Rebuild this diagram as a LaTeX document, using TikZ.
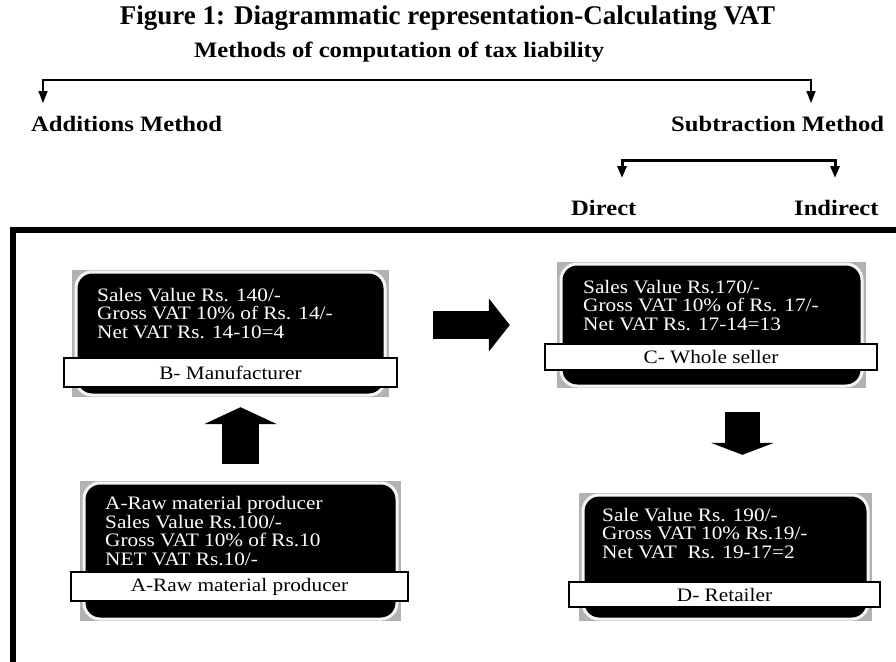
\documentclass[tikz,border=0pt]{standalone}
\usepackage{fontspec}
\setmainfont{Liberation Serif}
\newfontfamily\headfont[FakeStretch=1.12]{Liberation Serif}
\newfontfamily\cardfont[FakeStretch=1.12]{Liberation Serif}
\usetikzlibrary{arrows.meta,calc}
\tikzset{
  backing/.style={fill=gray!60, inner sep=0pt},
  card/.style={fill=black, draw=gray!8, line width=3pt, rounded corners=16pt, inner sep=0pt},
  cardtext/.style={text=white, align=left, inner sep=0pt, font=\cardfont\fontsize{19}{18.5}\selectfont},
  tag/.style={draw=black, fill=white, line width=1.2pt, inner sep=0pt, font=\cardfont\fontsize{19}{19}\selectfont},
  heading/.style={inner sep=0pt, font=\headfont\bfseries\fontsize{22}{24}\selectfont},
  split/.style={line width=#1, {Triangle[width=9pt,length=12pt]}-{Triangle[width=9pt,length=12pt]}},
  blockarrow/.style n args={3}{line width=#1, -{Triangle[width=#2,length=#3,line width=0pt]}},
}
\begin{document}
\begin{tikzpicture}[x=1pt,y=-1pt]
  \useasboundingbox (0,0) rectangle (896,661);
  % headings
  \node[inner sep=0pt, anchor=base, font=\bfseries\fontsize{27}{30}\selectfont] (title) at (447.5,25)
    {Figure 1: Diagrammatic representation-Calculating VAT};
  \node[heading, anchor=base west] (methods) at (194,58) {Methods of computation of tax liability};
  \node[heading, anchor=base west] (add) at (31,131) {Additions Method};
  \node[heading, anchor=base west] (sub) at (671,131) {Subtraction Method};
  \node[heading, anchor=base west] (direct) at (571,215) {Direct};
  \node[heading, anchor=base west] (indirect) at (794,215) {Indirect};
  % splits
  \coordinate (addtop) at (43,80);
  \coordinate (subtop) at (811,80);
  \coordinate (addtip) at (43,103);
  \coordinate (subtip) at (811,103);
  \coordinate (dirtop) at (622,160);
  \coordinate (indtop) at (835,160);
  \coordinate (dirtip) at (622,178);
  \coordinate (indtip) at (835,178);
  \draw[split=1.5pt] (addtip) -- (addtop) -- (subtop) -- (subtip);
  \draw[split=3pt] (dirtip) -- (dirtop) -- (indtop) -- (indtip);
  % frame
  \draw[line width=6pt] (900,230) -- (13,230) -- (13,665);
  % B- Manufacturer
  \node[backing, minimum width=317pt, minimum height=127pt] (Bbg) at (230.5,333.5) {};
  \node[card, minimum width=309pt, minimum height=123pt] (B) at (Bbg) {};
  \node[cardtext, anchor=base west] (Btext) at (97,338)
    {Sales Value Rs. 140/-\\Gross VAT 10\% of Rs. 14/-\\Net VAT Rs. 14-10=4};
  \node[tag, minimum width=333pt, minimum height=29pt] (Btag) at (230.5,372.5) {B- Manufacturer};
  % C- Whole seller
  \node[backing, minimum width=309pt, minimum height=126pt] (Cbg) at (711.5,325) {};
  \node[card, minimum width=301pt, minimum height=122pt] (C) at (Cbg) {};
  \node[cardtext, anchor=base west] (Ctext) at (583,330)
    {Sales Value Rs.170/-\\Gross VAT 10\% of Rs. 17/-\\Net VAT Rs. 17-14=13};
  \node[tag, minimum width=332pt, minimum height=26pt] (Ctag) at (711,357) {C- Whole seller};
  % A-Raw material producer
  \node[backing, minimum width=321pt, minimum height=140pt] (Abg) at (240.5,551) {};
  \node[card, minimum width=313pt, minimum height=136pt] (A) at (Abg) {};
  \node[cardtext, anchor=base west] (Atext) at (105,565)
    {A-Raw material producer\\Sales Value Rs.100/-\\Gross VAT 10\% of Rs.10\\NET VAT Rs.10/-};
  \node[tag, minimum width=337pt, minimum height=29pt] (Atag) at (239.5,586.5) {A-Raw material producer};
  % D- Retailer
  \node[backing, minimum width=293pt, minimum height=128pt] (Dbg) at (725.5,557) {};
  \node[card, minimum width=285pt, minimum height=124pt] (D) at (Dbg) {};
  \node[cardtext, anchor=base west] (Dtext) at (602,558)
    {Sale Value Rs. 190/-\\Gross VAT 10\% Rs.19/-\\Net VAT~ Rs. 19-17=2};
  \node[tag, minimum width=311pt, minimum height=25pt] (Dtag) at (724.5,594.5) {D- Retailer};
  % flow arrows
  \coordinate (CDout) at ($(Cbg.south east)!0.4!(Cbg.south west)$);
  \draw[blockarrow={37pt}{73pt}{17pt}, shorten <=17pt, shorten >=10pt] (Abg.north) -- (Abg.north |- Bbg.south);
  \draw[blockarrow={28pt}{53pt}{21pt}, shorten <=44pt, shorten >=47pt] (Bbg.east |- Cbg) -- (Cbg.west);
  \draw[blockarrow={35pt}{63pt}{12pt}, shorten <=24pt, shorten >=38pt] (CDout) -- (CDout |- Dbg.north);
\end{tikzpicture}
\end{document}
